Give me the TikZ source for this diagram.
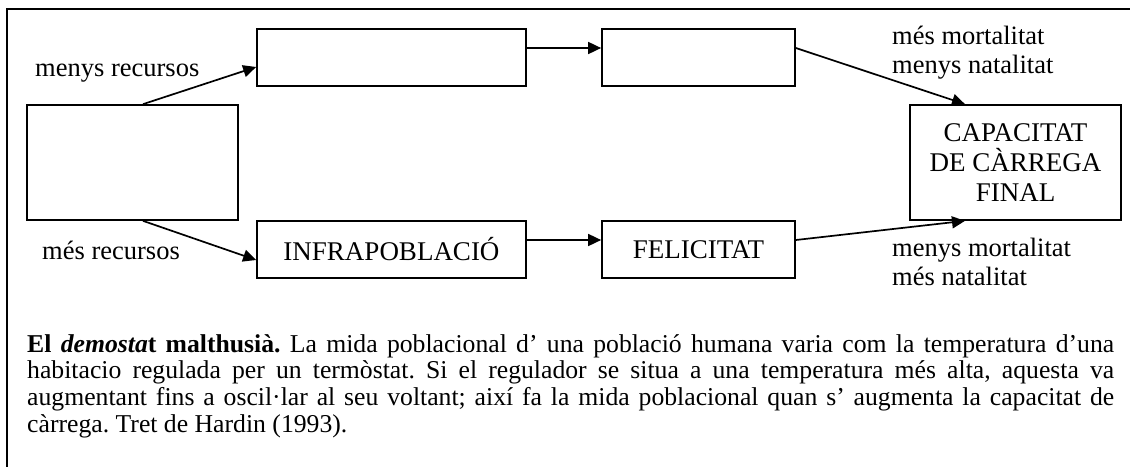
\documentclass[tikz,border=0pt]{standalone}
\usepackage{fontspec}
\setmainfont{Liberation Serif}
\usetikzlibrary{arrows.meta,calc}
\begin{document}
\begin{tikzpicture}[x=1pt,y=-1pt,
  box/.style={draw,line width=1.7pt,inner sep=0pt,font=\fontsize{27}{30}\selectfont,align=center},
  lbl/.style={inner sep=0pt,font=\fontsize{26.5}{29}\selectfont,align=left},
  arr/.style={line width=1.7pt,-{Triangle[length=13pt,width=12pt]}}]
\useasboundingbox (0,0) rectangle (1130,466);
\clip (0,0) rectangle (1130,466);
\fill[white] (0,0) rectangle (1130,466);
\draw[line width=2pt] (7,9) rectangle (1145,480);
\node[box,minimum width=211pt,minimum height=115pt] (L) at (132.5,162.5) {};
\node[box,minimum width=269pt,minimum height=57pt] (T1) at (391.5,57.5) {};
\node[box,minimum width=193pt,minimum height=57pt] (T2) at (698.5,57.5) {};
\node[box,minimum width=269pt,minimum height=57pt] (B1) at (391.5,249.5) {INFRAPOBLACIÓ};
\node[box,minimum width=193pt,minimum height=57pt] (B2) at (698.5,249.5) {FELICITAT};
\node[box,minimum width=211pt,minimum height=115pt] (C) at (1015.5,162.5) {CAPACITAT\\DE CÀRREGA\\FINAL};
\draw[arr] ([xshift=10.5pt]L.north) -- ([yshift=-9.5pt]T1.west);
\draw[arr] ([yshift=9.5pt]T1.east) -- ([yshift=9.5pt]T2.west);
\draw[arr] ([yshift=9.5pt]T2.east) -- ([xshift=-50.5pt]C.north);
\draw[arr] ([xshift=10.5pt]L.south) -- ([yshift=-10.5pt]B1.west);
\draw[arr] ([yshift=9.5pt]B1.east) -- ([yshift=9.5pt]B2.west);
\draw[arr] ([yshift=9.5pt]B2.east) -- ([xshift=-50.5pt]C.south);
\node[lbl,anchor=base west] (mr) at (35,76) {menys recursos};
\node[lbl,anchor=base west] (pr) at (42,259) {més recursos};
\node[lbl,anchor=base west] (t1) at (892,44) {més mortalitat};
\node[lbl,anchor=base west] (t2) at (892,73) {menys natalitat};
\node[lbl,anchor=base west] (b1) at (892,256) {menys mortalitat};
\node[lbl,anchor=base west] (b2) at (892,285) {més natalitat};
\node[anchor=north west,inner sep=0pt,text width=1087pt,align=justify,
  font=\fontsize{25.7}{26.8}\selectfont] (cap) at (27,334)
 {\frenchspacing\textbf{El \textit{demosta}t malthusià.} La mida poblacional d’ una població humana varia com la temperatura d’una\linebreak
 habitacio regulada per un termòstat. Si el regulador se situa a una temperatura més alta, aquesta va\linebreak
 augmentant fins a oscil·lar al seu voltant; així fa la mida poblacional quan s’ augmenta la capacitat de\linebreak
 càrrega. Tret de Hardin (1993).};
\end{tikzpicture}
\end{document}
